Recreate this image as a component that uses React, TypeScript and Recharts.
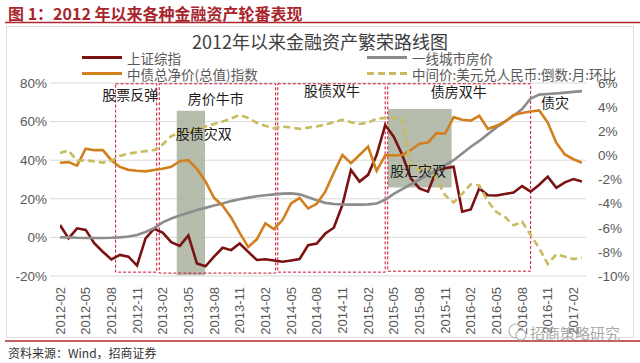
import React from 'react';
import {
  ComposedChart,
  Line,
  XAxis,
  YAxis,
  CartesianGrid,
  ReferenceArea,
  ReferenceDot,
} from 'recharts';

// ---------------- data ----------------
const months: string[] = [
  '2012-02', '2012-03', '2012-04', '2012-05', '2012-06', '2012-07', '2012-08', '2012-09', '2012-10', '2012-11', '2012-12',
  '2013-01', '2013-02', '2013-03', '2013-04', '2013-05', '2013-06', '2013-07', '2013-08', '2013-09', '2013-10', '2013-11', '2013-12',
  '2014-01', '2014-02', '2014-03', '2014-04', '2014-05', '2014-06', '2014-07', '2014-08', '2014-09', '2014-10', '2014-11', '2014-12',
  '2015-01', '2015-02', '2015-03', '2015-04', '2015-05', '2015-06', '2015-07', '2015-08', '2015-09', '2015-10', '2015-11', '2015-12',
  '2016-01', '2016-02', '2016-03', '2016-04', '2016-05', '2016-06', '2016-07', '2016-08', '2016-09', '2016-10', '2016-11', '2016-12',
  '2017-01', '2017-02', '2017-03',
];

const xTickLabels: string[] = [
  '2012-02', '2012-05', '2012-08', '2012-11', '2013-02', '2013-05', '2013-08', '2013-11', '2014-02', '2014-05', '2014-08',
  '2014-11', '2015-02', '2015-05', '2015-08', '2015-11', '2016-02', '2016-05', '2016-08', '2016-11', '2017-02',
];

// 上证综指 (left axis, %)
const shIndex: number[] = [
  6.4, -0.5, 4.7, 3.9, -3, -7.4, -11.4, -9.1, -10, -14.6,
  -0.5, 4.5, 2.5, -2.5, -4.4, 1.0, -13.5, -15, -10, -5.4,
  -6.6, -3.2, -7.5, -11.7, -11.3, -12, -12.6, -12, -11.2, -4,
  -3.2, 2, 5, 16.8, 34.9, 28.9, 32.4, 42.7, 58.2, 52.2,
  42.7, 30.6, 25.4, 23.7, 34.9, 35.8, 36.6, 13.3, 14.5, 25.4,
  21.8, 21.7, 22.5, 23.2, 26.6, 23.7, 27.3, 31.5, 25.7, 28.5,
  30.2, 28.9,
];

// 一线城市房价 (left axis, %)
const housePrice: number[] = [
  0, 0, -0.2, -0.3, -0.3, -0.3, -0.2, 0, 0.5, 1.2,
  2.8, 4.8, 7.8, 9.8, 11.3, 12.8, 14.2, 15.3, 16.5, 17.6,
  18.8, 19.8, 20.6, 21.3, 21.8, 22.3, 22.7, 22.8, 22.3, 20.8,
  19.2, 17.9, 17.3, 17.1, 17.0, 17.0, 17.1, 17.6, 19.5, 22.5,
  25, 27.5, 30, 32.3, 35, 37.5, 40, 43.5, 47, 50,
  53.5, 57, 60, 63, 66.5, 72, 74, 74.3, 74.6, 75,
  75.4, 75.8,
];

// 中债总净价(总值)指数 (left axis, %)
const bondIndex: number[] = [
  38.7, 39, 37.2, 46, 45.2, 45.2, 40, 36.5, 35, 34.5,
  34.2, 34.9, 35.6, 36.6, 39.5, 40, 35.5, 29, 20.5, 16.5,
  10.3, 2.3, -5, -1, 7.3, 4.3, 9, 17.6, 20.4, 15,
  17.4, 23.7, 33.5, 42.7, 38.5, 42.7, 47, 34.5, 42.5, 42.5,
  42.7, 45.3, 48.5, 49.2, 54, 53.7, 62.3, 61, 60.5, 63,
  56.2, 57.8, 60, 63.4, 64.5, 65.2, 65.8, 59.5, 49, 43,
  40.5, 38.7,
];

// 中间价:美元兑人民币:倒数:月:环比 (right axis, %)
const fxChange: number[] = [
  0.2, 0.4, -0.45, -0.4, -0.5, -0.6, -0.45, -0.05, 0.15, 0.25,
  0.35, 0.45, 0.9, 1.6, 1.85, 2.0, 2.1, 2.4, 2.6, 2.8,
  3.05, 3.35, 3.1, 2.7, 2.45, 2.25, 2.4, 2.3, 2.2, 2.3,
  2.4, 2.55, 2.75, 2.95, 2.75, 2.6, 2.7, 3.05, 3.1, 3.1,
  3.05, -0.9, -1.2, -0.9, -2.0, -3.3, -3.9, -3.2, -2.4, -2.5,
  -3.8, -4.7, -5.1, -5.8, -5.5, -6.6, -7.7, -9.0, -8.2, -8.4,
  -8.6, -8.5,
];

const leftTicks: number[] = [-20, 0, 20, 40, 60, 80];
const rightTicks: number[] = [-10, -8, -6, -4, -2, 0, 2, 4, 6];

// annotation boxes (x in month index, y in left-axis %)
const dashedBoxes = [
  { x1: 6.5, x2: 11.3, y1: -18, y2: 79.6 },
  { x1: 11.6, x2: 25.2, y1: -18.5, y2: 79.6 },
  { x1: 25.45, x2: 38.0, y1: -18, y2: 79.6 },
  { x1: 38.3, x2: 55.0, y1: -17.5, y2: 79.6 },
];
const shadedBoxes = [
  { x1: 13.64, x2: 16.95, y1: -19.6, y2: 65.6 },
  { x1: 38.33, x2: 45.77, y1: 25.9, y2: 66.5 },
  { x1: 55.5, x2: 61.16, y1: 34, y2: 75.5 },
];
const boxLabels = [
  { x: 8.2, y: 73.8, text: '股票反弹' },
  { x: 18.2, y: 71.7, text: '房价牛市' },
  { x: 31.8, y: 75.9, text: '股债双牛' },
  { x: 46.6, y: 75.3, text: '债房双牛' },
  { x: 16.8, y: 53.6, text: '股债灾双' },
  { x: 41.85, y: 34.4, text: '股汇灾双' },
  { x: 57.85, y: 69.6, text: '债灾' },
];

const series = [
  { key: 'sh', name: '上证综指', color: '#7a1212', dashed: false, axis: 'left' },
  { key: 'house', name: '一线城市房价', color: '#8c8c8c', dashed: false, axis: 'left' },
  { key: 'bond', name: '中债总净价(总值)指数', color: '#d27f1e', dashed: false, axis: 'left' },
  { key: 'fx', name: '中间价:美元兑人民币:倒数:月:环比', color: '#c9bb5e', dashed: true, axis: 'right' },
];

const rows = months.map((m, i) => ({
  idx: i,
  month: m,
  sh: shIndex[i],
  house: housePrice[i],
  bond: bondIndex[i],
  fx: fxChange[i],
}));

const xTicks = xTickLabels.map((l) => months.indexOf(l));

const NUM_FONT = '"Liberation Sans", Arial, sans-serif';
const CJK_FONT = '"Noto Sans CJK SC", "Noto Sans", sans-serif';

const XTick = (props: any) => {
  const { x, y, payload } = props;
  return (
    <text
      x={0}
      y={0}
      transform={`translate(${x},${y + 9}) rotate(-90)`}
      textAnchor="end"
      dominantBaseline="central"
      fill="#595959"
      fontSize={13}
      fontFamily={NUM_FONT}
    >
      {months[payload.value]}
    </text>
  );
};

const legendPos = [
  { x: 82, y: 57.5 },
  { x: 367, y: 57.5 },
  { x: 82, y: 73.5 },
  { x: 367, y: 73.5 },
];

export default function App() {
  return (
    <div
      style={{
        position: 'absolute',
        left: 0,
        top: 0,
        width: 640,
        height: 363,
        background: '#ffffff',
        overflow: 'hidden',
      }}
    >
      {/* background decorations */}
      <svg width={640} height={363} style={{ position: 'absolute', left: 0, top: 0 }}>
        <rect x={6.5} y={26.5} width={627} height={311} fill="none" stroke="#dedede" strokeWidth={1} />
        <text x={8} y={13} dominantBaseline="central" fontSize={16} fontWeight="bold" fill="#a8262b" fontFamily={CJK_FONT}>
          图 1：2012 年以来各种金融资产轮番表现
        </text>
        <line x1={5} x2={640} y1={22.5} y2={22.5} stroke="#b0282d" strokeWidth={1.5} />
        <text x={320} y={41} textAnchor="middle" dominantBaseline="central" fontSize={18} fill="#404040" fontFamily={CJK_FONT}>
          2012年以来金融资产繁荣路线图
        </text>
        {series.map((s, i) => (
          <g key={s.key}>
            <line
              x1={legendPos[i].x}
              x2={legendPos[i].x + 40}
              y1={legendPos[i].y}
              y2={legendPos[i].y}
              stroke={s.color}
              strokeWidth={3}
              strokeDasharray={s.dashed ? '7 4' : undefined}
            />
            <text
              x={legendPos[i].x + 45}
              y={legendPos[i].y}
              dominantBaseline="central"
              fontSize={13.5}
              fill="#595959"
              fontFamily={CJK_FONT}
            >
              {s.name}
            </text>
          </g>
        ))}
        <line x1={5} x2={640} y1={341} y2={341} stroke="#b0282d" strokeWidth={1.5} />
        <text x={8} y={352} dominantBaseline="central" fontSize={12} fill="#333333" fontFamily={CJK_FONT}>
          资料来源：Wind，招商证券
        </text>
      </svg>

      <div style={{ position: 'absolute', left: 0, top: 0 }}>
        <ComposedChart width={640} height={363} data={rows} margin={{ top: 83, right: 0, bottom: 0, left: 0 }}>
          <CartesianGrid vertical={false} stroke="#d9d9d9" />
          {shadedBoxes.map((b, i) => (
            <ReferenceArea
              key={'s' + i}
              x1={b.x1}
              x2={b.x2}
              y1={b.y1}
              y2={b.y2}
              fill="#a9b19f"
              fillOpacity={0.85}
              stroke="none"
            />
          ))}
          <XAxis
            type="number"
            dataKey="idx"
            domain={[0, 61]}
            ticks={xTicks}
            interval={0}
            tick={<XTick />}
            height={87}
            axisLine={false}
            tickLine={false}
            tickSize={0}
            padding={{ left: 10, right: 4 }}
            allowDataOverflow
          />
          <YAxis
            domain={[-20, 80]}
            ticks={leftTicks}
            tickFormatter={(v: number) => `${v}%`}
            width={50}
            axisLine={false}
            tickLine={false}
            tickSize={0}
            tickMargin={3}
            tick={{ fill: '#595959', fontSize: 13.5, fontFamily: NUM_FONT }}
            allowDataOverflow
          />
          <YAxis
            yAxisId="right"
            orientation="right"
            domain={[-10, 6]}
            ticks={rightTicks}
            tickFormatter={(v: number) => `${v}%`}
            width={54}
            axisLine={false}
            tickLine={false}
            tickSize={0}
            tickMargin={12}
            tick={{ fill: '#595959', fontSize: 13.5, fontFamily: NUM_FONT }}
            allowDataOverflow
          />
          {dashedBoxes.map((b, i) => (
            <ReferenceArea
              key={'d' + i}
              x1={b.x1}
              x2={b.x2}
              y1={b.y1}
              y2={b.y2}
              fill="none"
              fillOpacity={0}
              stroke="#c8102e"
              strokeWidth={1}
              strokeDasharray="3 2"
            />
          ))}
          {series.map((s) => (
            <Line
              key={s.key}
              yAxisId={s.axis === 'right' ? 'right' : 0}
              dataKey={s.key}
              type="linear"
              stroke={s.color}
              strokeWidth={2.6}
              strokeDasharray={s.dashed ? '7 4' : undefined}
              dot={false}
              activeDot={false}
              isAnimationActive={false}
            />
          ))}
          {boxLabels.map((l, i) => (
            <ReferenceDot
              key={'l' + i}
              x={l.x}
              y={l.y}
              r={0}
              fill="none"
              stroke="none"
              label={{ value: l.text, position: 'center', fill: '#1a1a1a', fontSize: 14, fontFamily: CJK_FONT }}
            />
          ))}
        </ComposedChart>
      </div>

      {/* watermark */}
      <svg width={640} height={363} style={{ position: 'absolute', left: 0, top: 0, pointerEvents: 'none' }}>
        <circle cx={516} cy={331} r={7} fill="none" stroke="#b5b5b5" strokeWidth={1.2} />
        <circle cx={521} cy={335} r={5} fill="#ffffff" stroke="#b5b5b5" strokeWidth={1.2} />
        <text x={530} y={332} dominantBaseline="central" fontSize={15} fill="#9e9e9e" fillOpacity={0.9} fontFamily={CJK_FONT}>
          招商策略研究
        </text>
      </svg>
    </div>
  );
}
